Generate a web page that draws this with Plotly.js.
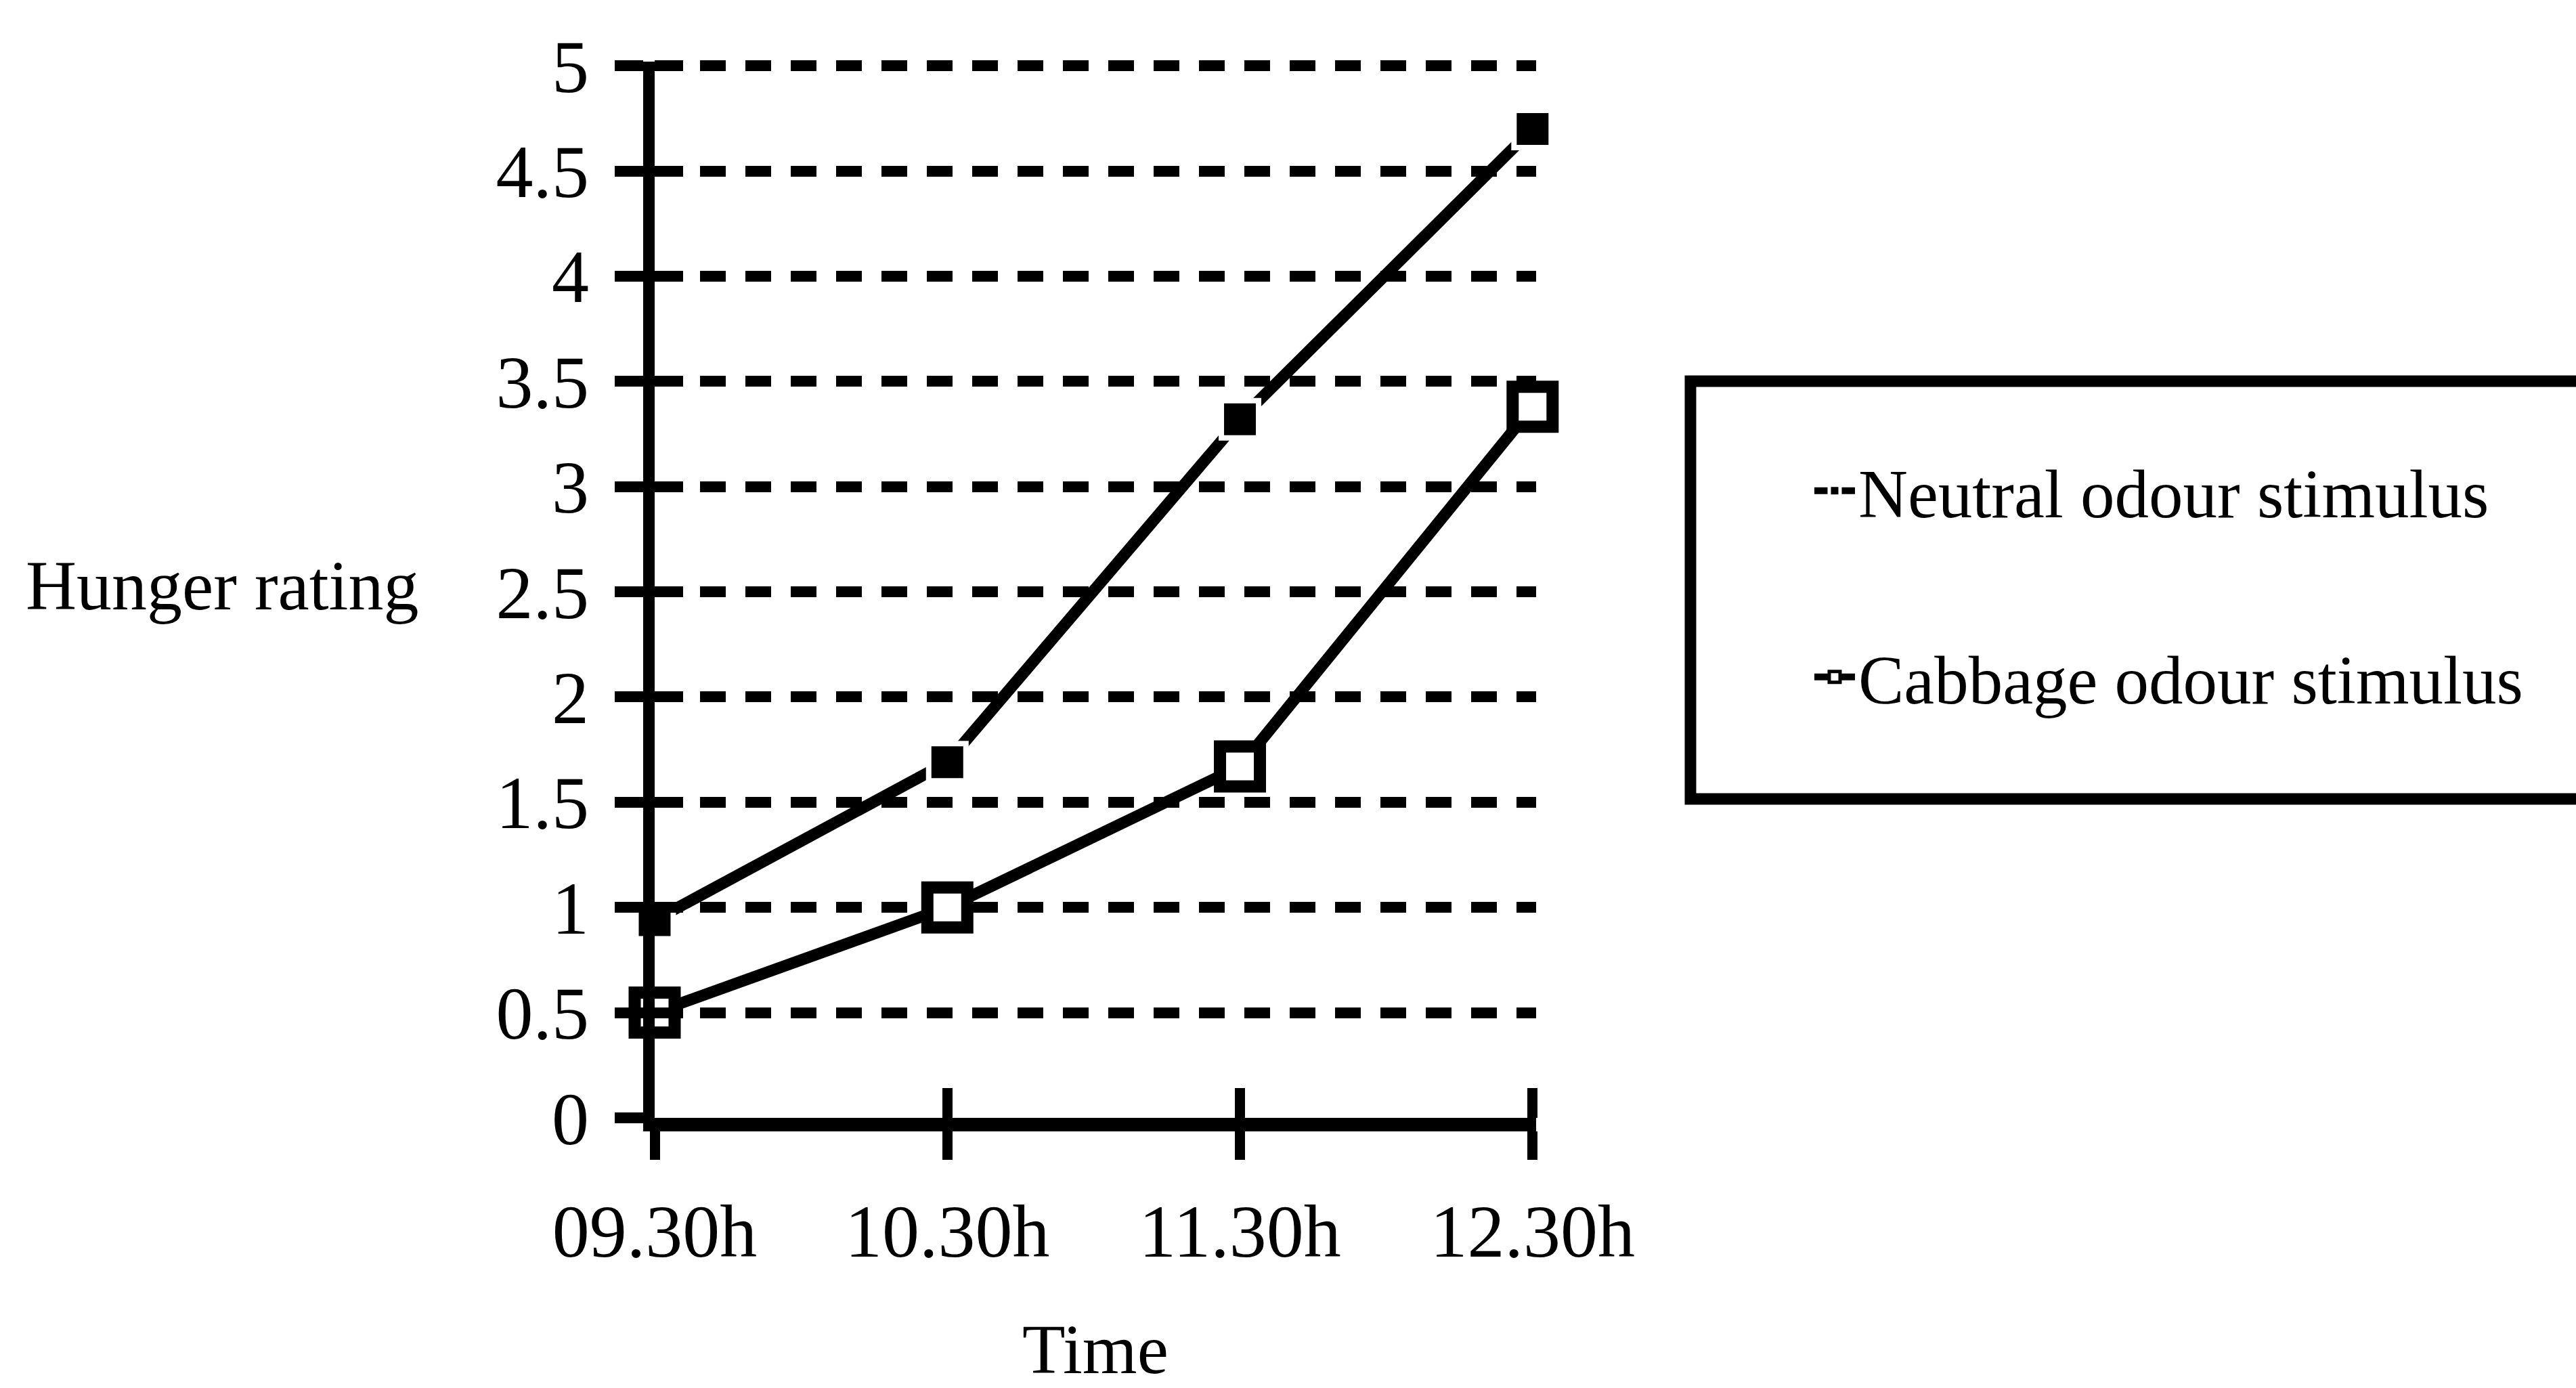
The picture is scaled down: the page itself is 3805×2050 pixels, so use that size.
<!DOCTYPE html>
<html>
<head>
<meta charset="utf-8">
<script src="https://cdn.plot.ly/plotly-3.0.1.min.js"></script>
<style>
  html, body { margin: 0; padding: 0; background: #ffffff; }
  #chart { width: 3805px; height: 2050px; }
</style>
</head>
<body>
<div id="chart"></div>
<script>
// ---- data ----
const times = ['09.30h', '10.30h', '11.30h', '12.30h'];
const neutralValues = [0.94, 1.69, 3.32, 4.70];
const cabbageValues = [0.5, 1.0, 1.67, 3.38];
const seriesNames = ['Neutral odour stimulus', 'Cabbage odour stimulus'];
const yTickValues = [0, 0.5, 1, 1.5, 2, 2.5, 3, 3.5, 4, 4.5, 5];
const yTickLabels = ['0', '0.5', '1', '1.5', '2', '2.5', '3', '3.5', '4', '4.5', '5'];
const xTitle = 'Time';
const yTitle = 'Hunger rating';

const FONT = 'Liberation Serif, Times New Roman, Times, serif';
const FS = 104;
const TICKFS = 110;
const INK = '#000000';

const X_RANGE = [0, 3.012];
const Y_RANGE = [0, 5.02];

const traces = [
  {
    type: 'scatter', mode: 'lines+markers',
    x: times, y: neutralValues, name: seriesNames[0],
    xaxis: 'x', yaxis: 'y', legend: 'legend',
    line: { color: INK, width: 17 },
    marker: { symbol: 'square', size: 55, color: INK, line: { color: '#ffffff', width: 8 } },
    cliponaxis: false
  },
  {
    type: 'scatter', mode: 'lines+markers',
    x: times, y: cabbageValues, name: seriesNames[1],
    xaxis: 'x2', yaxis: 'y2', legend: 'legend2',
    line: { color: INK, width: 17 },
    marker: { symbol: 'square', size: 59, color: '#ffffff', line: { color: INK, width: 18 } },
    cliponaxis: false
  }
];

const layout = {
  width: 3805, height: 2050, autosize: false,
  paper_bgcolor: '#ffffff', plot_bgcolor: '#ffffff',
  margin: { l: 967, r: 1536, t: 91, b: 399, pad: 0 },
  font: { family: FONT, size: FS, color: INK },
  showlegend: true,
  xaxis: {
    type: 'category', range: X_RANGE,
    showline: true, linecolor: INK, linewidth: 20,
    ticks: 'outside', ticklen: 42, tickwidth: 15, tickcolor: INK,
    showgrid: false, zeroline: false,
    tickfont: { family: FONT, size: TICKFS, color: INK },
    ticklabelstandoff: 11,
    title: { text: xTitle, font: { family: FONT, size: FS, color: INK }, standoff: 160 },
    automargin: false, fixedrange: true
  },
  xaxis2: {
    type: 'category', overlaying: 'x', anchor: 'y2', side: 'bottom', range: X_RANGE,
    ticks: 'inside', ticklen: 44, tickwidth: 15, tickcolor: INK,
    showticklabels: false, showgrid: false, showline: false, zeroline: false,
    automargin: false, fixedrange: true
  },
  yaxis: {
    range: Y_RANGE, tickvals: yTickValues, ticktext: yTickLabels,
    showline: true, linecolor: INK, linewidth: 17,
    ticks: 'outside', ticklen: 42, tickwidth: 16, tickcolor: INK,
    showgrid: true, gridcolor: INK, gridwidth: 16, griddash: '38px,29px',
    zeroline: false,
    tickfont: { family: FONT, size: TICKFS, color: INK },
    ticklabelstandoff: 16,
    automargin: false, fixedrange: true
  },
  yaxis2: {
    overlaying: 'y', anchor: 'x2', side: 'left', range: Y_RANGE,
    tickvals: yTickValues, ticks: 'inside', ticklen: 42, tickwidth: 16, tickcolor: INK,
    showticklabels: false, showgrid: false, showline: false, zeroline: false,
    automargin: false, fixedrange: true
  },
  legend: {
    x: 1.3118, xanchor: 'left', y: 0.5936, yanchor: 'middle',
    bgcolor: 'rgba(0,0,0,0)', borderwidth: 0,
    font: { family: FONT, size: 101, color: INK },
    itemwidth: 60
  },
  legend2: {
    x: 1.3118, xanchor: 'left', y: 0.4173, yanchor: 'middle',
    bgcolor: 'rgba(0,0,0,0)', borderwidth: 0,
    font: { family: FONT, size: 101, color: INK },
    itemwidth: 60
  },
  shapes: [
    {
      type: 'rect', xref: 'paper', yref: 'paper',
      x0: 1.1751, x1: 2.25, y0: 0.3019, y1: 0.6974,
      line: { color: INK, width: 17 }, fillcolor: 'rgba(0,0,0,0)', layer: 'above'
    }
  ],
  annotations: [
    {
      text: yTitle, xref: 'paper', yref: 'y', x: -0.7151, y: 2.5,
      xanchor: 'left', yanchor: 'middle', yshift: 10, showarrow: false,
      font: { family: FONT, size: FS, color: INK }
    }
  ]
};

Plotly.newPlot('chart', traces, layout, { displayModeBar: false, staticPlot: true });
</script>
</body>
</html>
